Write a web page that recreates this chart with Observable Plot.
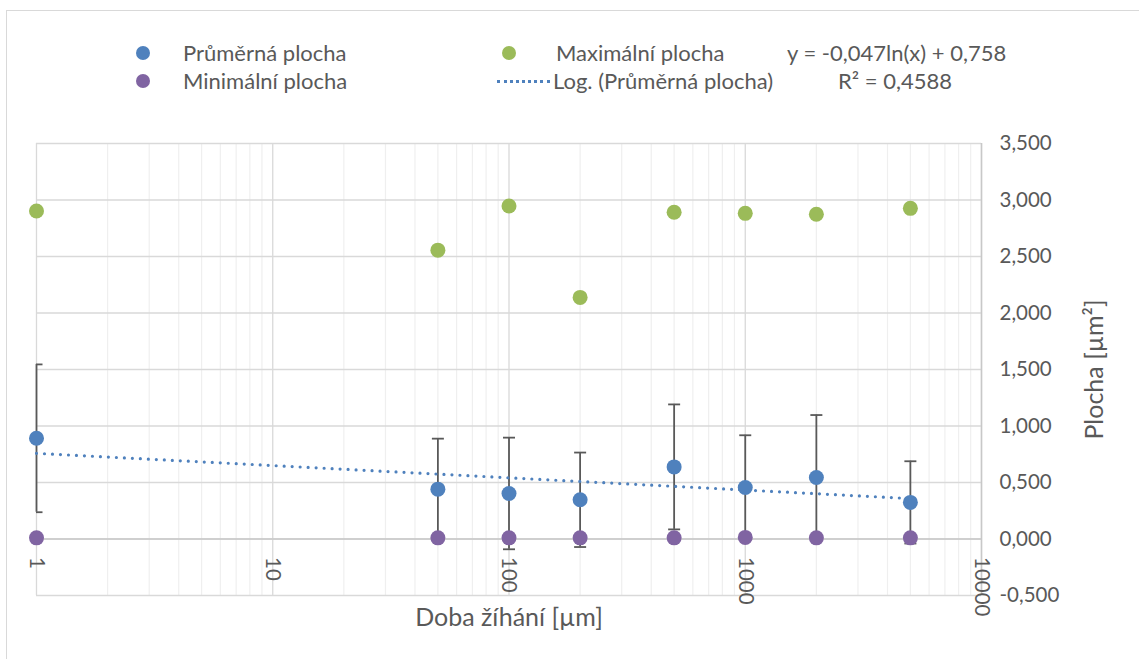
<!DOCTYPE html>
<html>
<head>
<meta charset="utf-8">
<script src="https://cdn.jsdelivr.net/npm/d3@7"></script>
<script src="https://cdn.jsdelivr.net/npm/@observablehq/plot@0.6"></script>
<style>
  html, body { margin: 0; padding: 0; background: #fff; }
  body { font-family: Lato, "Open Sans", sans-serif; }
  #chart { position: relative; width: 1139px; height: 659px; overflow: hidden; }
  #border { position: absolute; left: 6px; top: 10px; width: 1300px; height: 800px;
            border: 1.5px solid #d9d9d9; box-sizing: border-box; }
  #legend { position: absolute; left: 0; top: 0; width: 1139px; height: 110px; }
  .lg { position: absolute; font-size: 22px; color: #595959; white-space: nowrap; line-height: 1; }
  .dot { position: absolute; width: 14px; height: 14px; border-radius: 50%; }
  .dash { position: absolute; height: 0; border-top: 3px dotted #4F81BD; }
  #plot { position: absolute; left: 0; top: 110px; }
</style>
</head>
<body>
<div id="chart">
  <div id="border"></div>
  <div id="legend"></div>
  <div id="plot"></div>
</div>
<script>
// ---- data ----
const dobaZihani   = [1, 50, 100, 200, 500, 1000, 2000, 5000];
const prumerna     = [0.891, 0.441, 0.403, 0.347, 0.638, 0.456, 0.544, 0.324];
const smerOdchylka = [0.654, 0.447, 0.494, 0.418, 0.553, 0.462, 0.553, 0.364];
const maximalni    = [2.903, 2.556, 2.947, 2.138, 2.891, 2.882, 2.874, 2.926];
const minimalni    = [0.010, 0.010, 0.010, 0.010, 0.010, 0.014, 0.010, 0.010];
const trendCoef    = [-0.047, 0.758];            // y = a*ln(x) + b, from the chart label
const xTicks       = [1, 10, 100, 1000, 10000];
const yTicks       = [-0.5, 0, 0.5, 1, 1.5, 2, 2.5, 3, 3.5];
const seriesNames  = ["Průměrná plocha", "Minimální plocha", "Maximální plocha", "Log. (Průměrná plocha)"];
const trendLabels  = ["y = -0,047ln(x) + 0,758", "R² = 0,4588"];
const xTitle = "Doba žíhání [µm]";
const yTitle = "Plocha [µm²]";

const colors = { avg: "#4F81BD", max: "#9BBB59", min: "#8064A2", err: "#595959", text: "#595959" };

const rows = dobaZihani.map((x, i) => ({
  x, avg: prumerna[i], sd: smerOdchylka[i], max: maximalni[i], min: minimalni[i]
}));
const minorTicks = xTicks.slice(0, -1).flatMap(t => d3.range(2, 10).map(k => k * t));
const trendPts = d3.extent(dobaZihani).map(x => ({ x, y: trendCoef[0] * Math.log(x) + trendCoef[1] }));
const fmtY = d => d.toFixed(3).replace(".", ",");

// custom horizontal cap symbol for error bars
const capSymbol = {
  draw(ctx, size) {
    const r = Math.sqrt(size / Math.PI);
    ctx.moveTo(-r, 0); ctx.lineTo(r, 0);
  }
};

const font = "Lato, 'Open Sans', sans-serif";

const plot = Plot.plot({
  width: 1139,
  height: 549,
  marginTop: 33,
  marginBottom: 64,
  marginLeft: 36,
  marginRight: 158,
  style: { fontFamily: font, fontSize: "20px", color: colors.text, background: "transparent", overflow: "visible" },
  x: { type: "log", domain: [1, 10000], axis: null },
  y: { domain: [-0.5, 3.5], axis: null },
  marks: [
    Plot.ruleX(minorTicks, { stroke: "#efefef", strokeWidth: 1.2 }),
    Plot.ruleX(xTicks, { stroke: "#d9d9d9", strokeWidth: 1.3 }),
    Plot.ruleY(yTicks, { stroke: "#d9d9d9", strokeWidth: 1.3 }),
    Plot.ruleY([0], { stroke: "#c8c8c8", strokeWidth: 1.5 }),
    Plot.ruleX([10000], { stroke: "#c8c8c8", strokeWidth: 1.5 }),
    // tick labels
    Plot.text(yTicks, { x: 10000, y: d => d, text: fmtY, dx: 18, textAnchor: "start", fill: colors.text, fontSize: 20.5 }),
    Plot.text(xTicks, { x: d => d, y: 0, text: d => String(d), rotate: 90, dy: 18, textAnchor: "start", fill: colors.text, fontSize: 20.5 }),
    // axis titles
    Plot.text([xTitle], { frameAnchor: "bottom", text: d => d, dy: 22, lineAnchor: "middle", textAnchor: "middle", fill: colors.text, fontSize: 25 }),
    Plot.text([yTitle], { frameAnchor: "right", text: d => d, rotate: -90, dx: 113, lineAnchor: "middle", textAnchor: "middle", fill: colors.text, fontSize: 25 }),
    // error bars
    Plot.ruleX(rows, { x: "x", y1: d => d.avg - d.sd, y2: d => d.avg + d.sd, stroke: colors.err, strokeWidth: 1.8 }),
    Plot.dot(rows.flatMap(d => [{ x: d.x, y: d.avg - d.sd }, { x: d.x, y: d.avg + d.sd }]),
      { x: "x", y: "y", symbol: capSymbol, r: 6, stroke: colors.err, strokeWidth: 1.8, fill: "none", clip: true }),
    // trendline
    Plot.line(trendPts, { x: "x", y: "y", stroke: colors.avg, strokeWidth: 3.2, strokeDasharray: "0 8", strokeLinecap: "round" }),
    // series
    Plot.dot(rows, { x: "x", y: "max", r: 7.5, fill: colors.max }),
    Plot.dot(rows, { x: "x", y: "avg", r: 7.5, fill: colors.avg }),
    Plot.dot(rows, { x: "x", y: "min", r: 7.5, fill: colors.min })
  ]
});
document.getElementById("plot").appendChild(plot);

// ---- legend ----
const legend = document.getElementById("legend");
const legendItems = [
  { name: seriesNames[0], kind: "dot", color: colors.avg, sx: 143, tx: 183, y: 53 },
  { name: seriesNames[1], kind: "dot", color: colors.min, sx: 143, tx: 183, y: 81 },
  { name: seriesNames[2], kind: "dot", color: colors.max, sx: 509, tx: 556, y: 53 },
  { name: seriesNames[3], kind: "line", color: colors.avg, sx: 497, tx: 553, y: 81 },
  { name: trendLabels[0], kind: "none", tx: 787, y: 53 },
  { name: trendLabels[1], kind: "none", tx: 838, y: 81 }
];
legendItems.forEach(it => {
  if (it.kind === "dot") {
    const d = document.createElement("div");
    d.className = "dot";
    d.style.left = (it.sx - 7) + "px"; d.style.top = (it.y - 7) + "px";
    d.style.background = it.color;
    legend.appendChild(d);
  } else if (it.kind === "line") {
    const l = document.createElement("div");
    l.className = "dash";
    l.style.left = it.sx + "px"; l.style.top = (it.y - 1.5) + "px"; l.style.width = "53px";
    legend.appendChild(l);
  }
  const t = document.createElement("div");
  t.className = "lg";
  t.textContent = it.name;
  t.style.left = it.tx + "px"; t.style.top = (it.y - 11.5) + "px";
  legend.appendChild(t);
});
</script>
</body>
</html>
